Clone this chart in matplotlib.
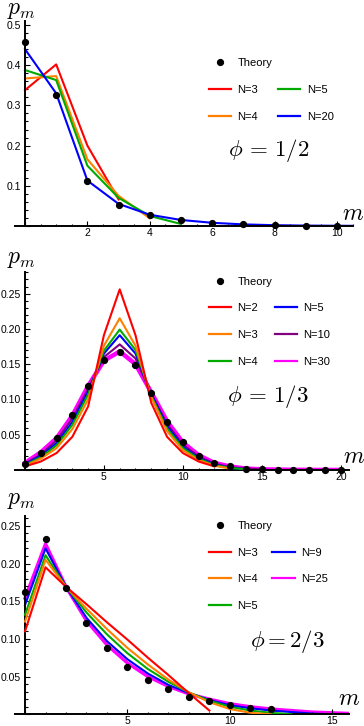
import matplotlib
matplotlib.use("Agg")
import matplotlib.pyplot as plt
from matplotlib.lines import Line2D
from matplotlib.ticker import MultipleLocator

plt.rcParams["font.family"] = ["Liberation Sans", "DejaVu Sans"]
plt.rcParams["mathtext.fontset"] = "cm"

# ---- data, phi = 1/2 ----
m1_theory = list(range(11))
p1_theory = [0.458, 0.325, 0.111, 0.051, 0.027, 0.015, 0.008, 0.004, 0.0025, 0.0012, 0.0006]
p1_n3 = [0.338, 0.402, 0.200, 0.066]
p1_n4 = [0.367, 0.373, 0.166, 0.075, 0.019]
p1_n5 = [0.388, 0.363, 0.150, 0.070, 0.025, 0.005]
p1_n20 = [0.440, 0.330, 0.113, 0.055, 0.028, 0.015, 0.008, 0.004, 0.002, 0.001, 0.0006, 0.0003]

# ---- data, phi = 1/3 ----
m2_theory = list(range(21))
p2_theory = [0.0085, 0.0245, 0.045, 0.0775, 0.119, 0.156, 0.1676, 0.149, 0.109, 0.068,
             0.039, 0.020, 0.010, 0.005, 0.002, 0.001, 0.0006, 0.0003, 0.0002, 0.0001, 0.0001]
p2_n2 = [0.005, 0.012, 0.024, 0.047, 0.090, 0.191, 0.256, 0.191, 0.095, 0.047, 0.024, 0.012, 0.005]
p2_n3 = [0.006, 0.016, 0.031, 0.058, 0.100, 0.176, 0.215, 0.176, 0.103, 0.055, 0.028, 0.014, 0.006, 0.002]
p2_n4 = [0.007, 0.018, 0.035, 0.064, 0.107, 0.169, 0.199, 0.170, 0.105, 0.059, 0.031, 0.016, 0.007, 0.003, 0.001]
p2_n5 = [0.008, 0.020, 0.038, 0.068, 0.111, 0.165, 0.191, 0.165, 0.107, 0.062, 0.033, 0.017, 0.008, 0.003, 0.001]
p2_n10 = [0.009, 0.022, 0.042, 0.073, 0.115, 0.160, 0.178, 0.158, 0.108, 0.065, 0.036, 0.019, 0.009, 0.004, 0.002, 0.001]
p2_n30 = [0.010, 0.025, 0.045, 0.077, 0.119, 0.155, 0.168, 0.150, 0.110, 0.069, 0.039, 0.021, 0.010, 0.005, 0.002,
          0.001, 0.0006, 0.0003, 0.0002, 0.0001, 0.0001]

# ---- data, phi = 2/3 ----
m3_theory = list(range(13))
p3_theory = [0.162, 0.233, 0.168, 0.1215, 0.0875, 0.063, 0.0455, 0.033, 0.0234, 0.0176, 0.0123, 0.0088, 0.0066]
p3_n3 = [0.110, 0.195, 0.169, 0.146, 0.122, 0.099, 0.075, 0.052, 0.028, 0.005]
p3_n4 = [0.123, 0.205, 0.169, 0.140, 0.113, 0.088, 0.066, 0.046, 0.029, 0.016, 0.007, 0.002, 0.0]
p3_n5 = [0.132, 0.211, 0.169, 0.135, 0.106, 0.081, 0.060, 0.043, 0.029, 0.018, 0.010, 0.005, 0.002, 0.0]
p3_n9 = [0.145, 0.220, 0.169, 0.128, 0.097, 0.073, 0.054, 0.039, 0.028, 0.019, 0.012, 0.008, 0.005, 0.003, 0.001, 0.0]
p3_n25 = [0.154, 0.226, 0.169, 0.124, 0.092, 0.068, 0.050, 0.037, 0.027, 0.020, 0.014, 0.010, 0.007, 0.005,
          0.003, 0.002, 0.001]

RED, ORANGE, GREEN, BLUE, PURPLE, MAGENTA = "#ff0000", "#ff8000", "#00aa00", "#0000ff", "#800080", "#ff00ff"

W, H = 364, 726
fig = plt.figure(figsize=(W / 100, H / 100), dpi=100)


def make_axes(left, right, top, bottom, xlim, ylim, xmaj, xmin, ymaj, ymin, yfmt):
    ax = fig.add_axes([left / W, 1 - bottom / H, (right - left) / W, (bottom - top) / H])
    ax.set_xlim(*xlim)
    ax.set_ylim(*ylim)
    for s in ["top", "right"]:
        ax.spines[s].set_visible(False)
    ax.spines["left"].set_position(("data", 0))
    ax.spines["left"].set_linewidth(1.4)
    ax.spines["bottom"].set_linewidth(1.4)
    ax.xaxis.set_major_locator(MultipleLocator(xmaj))
    ax.xaxis.set_minor_locator(MultipleLocator(xmin))
    ax.yaxis.set_major_locator(MultipleLocator(ymaj))
    ax.yaxis.set_minor_locator(MultipleLocator(ymin))
    ax.tick_params(which="both", direction="in", labelsize=7.5, width=0.8)
    ax.tick_params(which="major", length=3.5)
    ax.tick_params(which="minor", length=1.8)
    ax.tick_params(axis="x", which="major", pad=1.5)
    ax.tick_params(axis="y", which="major", pad=3)
    ax.xaxis.set_major_formatter(lambda v, p: "" if abs(v) < 1e-9 else f"{v:g}")
    ax.yaxis.set_major_formatter(lambda v, p: "" if abs(v) < 1e-9 else yfmt.format(v))
    return ax


def theory(ax, m, p):
    ax.plot(m, p, "o", color="black", ms=4.2, zorder=10, clip_on=False, label="Theory")


def add_legend(ax, handles, x, y, colsp):
    leg = ax.legend(handles=handles, labels=[h.get_label() for h in handles], ncol=2,
                    loc="upper left", bbox_to_anchor=(x / W, 1 - y / H), bbox_transform=fig.transFigure,
                    frameon=False, fontsize=8, handlelength=2.0, handletextpad=0.6,
                    columnspacing=colsp, labelspacing=1.5, borderpad=0, borderaxespad=0,
                    numpoints=1)
    for ln in leg.get_lines():
        ln.set_linewidth(1.6)
    return leg


blank = Line2D([], [], linestyle="none", label=" ")

# ---------- panel 1 ----------
ax1 = make_axes(15, 352.6, 21, 226, (-0.32, 10.5), (0, 0.51), 2, 0.5, 0.1, 0.02, "{:.1f}")
ax1.plot(range(len(p1_n3)), p1_n3, color=RED, lw=1.5, label="N=3")
ax1.plot(range(len(p1_n4)), p1_n4, color=ORANGE, lw=1.5, label="N=4")
ax1.plot(range(len(p1_n5)), p1_n5, color=GREEN, lw=1.5, label="N=5")
ax1.plot(range(len(p1_n20)), p1_n20, color=BLUE, lw=1.5, label="N=20")
theory(ax1, m1_theory, p1_theory)
h = {l.get_label(): l for l in ax1.get_lines()}
add_legend(ax1, [h["Theory"], h["N=3"], h["N=4"], blank, h["N=5"], h["N=20"]], 208.7, 58.3, 0.5)
fig.text(268.7 / W, 1 - 150 / H, r"$\phi\,=\,1/2$", fontsize=16.5, ha="center", va="center")

# ---------- panel 2 ----------
ax2 = make_axes(15, 348.7, 271.7, 470, (-0.63, 20.5), (0, 0.281), 5, 1, 0.05, 0.01, "{:.2f}")
ax2.plot(range(len(p2_n30)), p2_n30, color=MAGENTA, lw=3.2, label="N=30", zorder=1)
ax2.plot(range(len(p2_n10)), p2_n10, color=PURPLE, lw=1.5, label="N=10", zorder=2)
ax2.plot(range(len(p2_n5)), p2_n5, color=BLUE, lw=1.5, label="N=5", zorder=3)
ax2.plot(range(len(p2_n4)), p2_n4, color=GREEN, lw=1.5, label="N=4", zorder=4)
ax2.plot(range(len(p2_n3)), p2_n3, color=ORANGE, lw=1.5, label="N=3", zorder=5)
ax2.plot(range(len(p2_n2)), p2_n2, color=RED, lw=1.5, label="N=2", zorder=6)
theory(ax2, m2_theory, p2_theory)
h = {l.get_label(): l for l in ax2.get_lines()}
add_legend(ax2, [h["Theory"], h["N=2"], h["N=3"], h["N=4"], blank, h["N=5"], h["N=10"], h["N=30"]],
           208.7, 276.7, 0.2)
fig.text(268 / W, 1 - 396.7 / H, r"$\phi\,=\,1/3$", fontsize=16.5, ha="center", va="center")

# ---------- panel 3 ----------
ax3 = make_axes(15, 348.7, 516, 714.3, (-0.49, 15.8), (0, 0.263), 5, 1, 0.05, 0.01, "{:.2f}")
ax3.plot(range(len(p3_n25)), p3_n25, color=MAGENTA, lw=2.4, label="N=25", zorder=1)
ax3.plot(range(len(p3_n9)), p3_n9, color=BLUE, lw=1.5, label="N=9", zorder=2)
ax3.plot(range(len(p3_n5)), p3_n5, color=GREEN, lw=1.5, label="N=5", zorder=3)
ax3.plot(range(len(p3_n4)), p3_n4, color=ORANGE, lw=1.5, label="N=4", zorder=4)
ax3.plot(range(len(p3_n3)), p3_n3, color=RED, lw=1.5, label="N=3", zorder=5)
theory(ax3, m3_theory, p3_theory)
h = {l.get_label(): l for l in ax3.get_lines()}
add_legend(ax3, [h["Theory"], h["N=3"], h["N=4"], h["N=5"], blank, h["N=9"], h["N=25"]],
           208.7, 521, 0.0)
fig.text(287 / W, 1 - 641.7 / H, r"$\phi = 2/3$", fontsize=16.5, ha="center", va="center")

# axis labels
for ypm, ym, xm in [(10, 214, 353), (259, 457, 354), (500, 699, 349)]:
    fig.text(21 / W, 1 - ypm / H, r"$p_m$", fontsize=17, ha="center", va="center")
    fig.text(xm / W, 1 - ym / H, r"$m$", fontsize=17, ha="center", va="center")

fig.savefig("out.png", dpi=100)
